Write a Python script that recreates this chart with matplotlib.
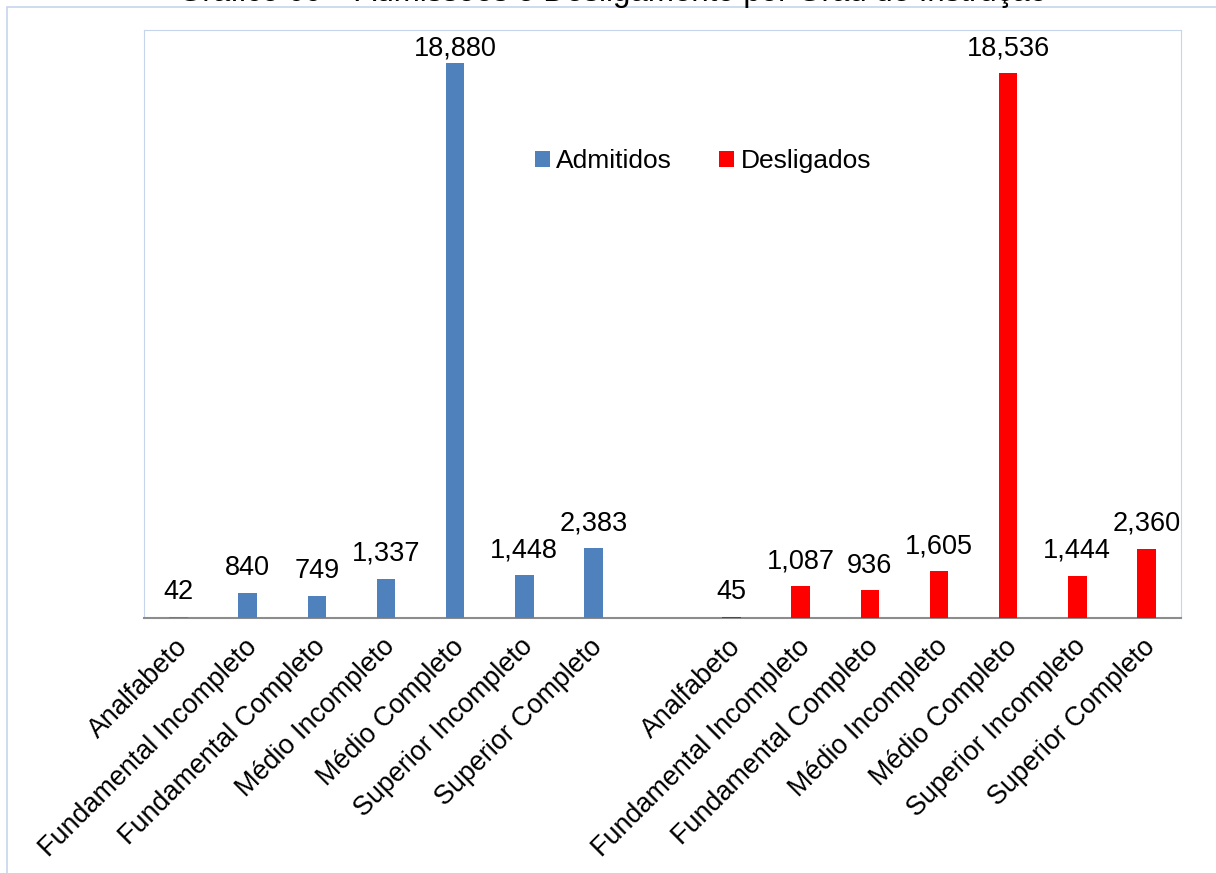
import matplotlib
matplotlib.use("Agg")
import matplotlib.pyplot as plt
import matplotlib.transforms as mtransforms
from matplotlib.patches import Rectangle

plt.rcParams['font.family'] = ['Liberation Sans', 'DejaVu Sans']

categories = ["Analfabeto", "Fundamental Incompleto", "Fundamental Completo",
              "Médio Incompleto", "Médio Completo", "Superior Incompleto", "Superior Completo"]
admitidos = [42, 840, 749, 1337, 18880, 1448, 2383]
desligados = [45, 1087, 936, 1605, 18536, 1444, 2360]
title = "Gráfico 09 – Admissões e Desligamento por Grau de Instrução"

W, H = 1216, 873
fig = plt.figure(figsize=(W/100, H/100), dpi=100)
ax = fig.add_axes([144/W, 1-618/H, (1181-144)/W, (618-30)/H])

# outer chart frame
fig.patches.append(Rectangle((7/W, -0.01), 1.02, 1-7/H+0.01, transform=fig.transFigure,
                             fill=False, edgecolor='#c6d5ec', linewidth=1.2))
fig.text(613/W, 1-0.5/H, title, ha='center', va='baseline', fontsize=22.5)

n = len(categories)
x_adm = list(range(n))
x_des = [i + n + 1 for i in range(n)]
bw = 0.27
ymax = 20000
ax.bar(x_adm, admitidos, width=bw, color='#4f81bd', label='Admitidos', zorder=3)
ax.bar(x_des, desligados, width=bw, color='#ff0000', label='Desligados', zorder=3)

for xs, vals in ((x_adm, admitidos), (x_des, desligados)):
    for xi, v in zip(xs, vals):
        if v > 0.85 * ymax:
            # label pushed inside the plot area, like the original
            ax.annotate(f"{v:,}", (xi, 1), xycoords=('data', 'axes fraction'),
                        xytext=(0, -4), textcoords='offset points',
                        ha='center', va='top', fontsize=19.5)
        else:
            ax.annotate(f"{v:,}", (xi, v), xytext=(0, 8.5), textcoords='offset points',
                        ha='center', va='bottom', fontsize=19.5)

ax.set_xlim(-0.5, 2*n + 0.5)
ax.set_ylim(0, ymax)
ax.set_yticks([])
ax.set_xticks(x_adm + x_des)
ax.set_xticklabels(categories + categories, rotation=45, ha='right', va='top',
                   rotation_mode='anchor', fontsize=19.4)
ax.tick_params(axis='x', length=0, pad=12)
shift = mtransforms.ScaledTranslation(-4/100, 1/100, fig.dpi_scale_trans)
for lbl in ax.get_xticklabels():
    lbl.set_transform(lbl.get_transform() + shift)
for s in ('top', 'right', 'left'):
    ax.spines[s].set_color('#c6d5ec')
ax.spines['bottom'].set_color('#8c8c8c')
ax.spines['bottom'].set_linewidth(1.5)

ax.legend(loc='upper left', bbox_to_anchor=(391/1037, 1-119/588), ncol=2, frameon=False,
          fontsize=19, handlelength=0.55, handleheight=0.55, handletextpad=0.25,
          columnspacing=1.8, borderpad=0, borderaxespad=0)

fig.savefig("out.png", dpi=100)
